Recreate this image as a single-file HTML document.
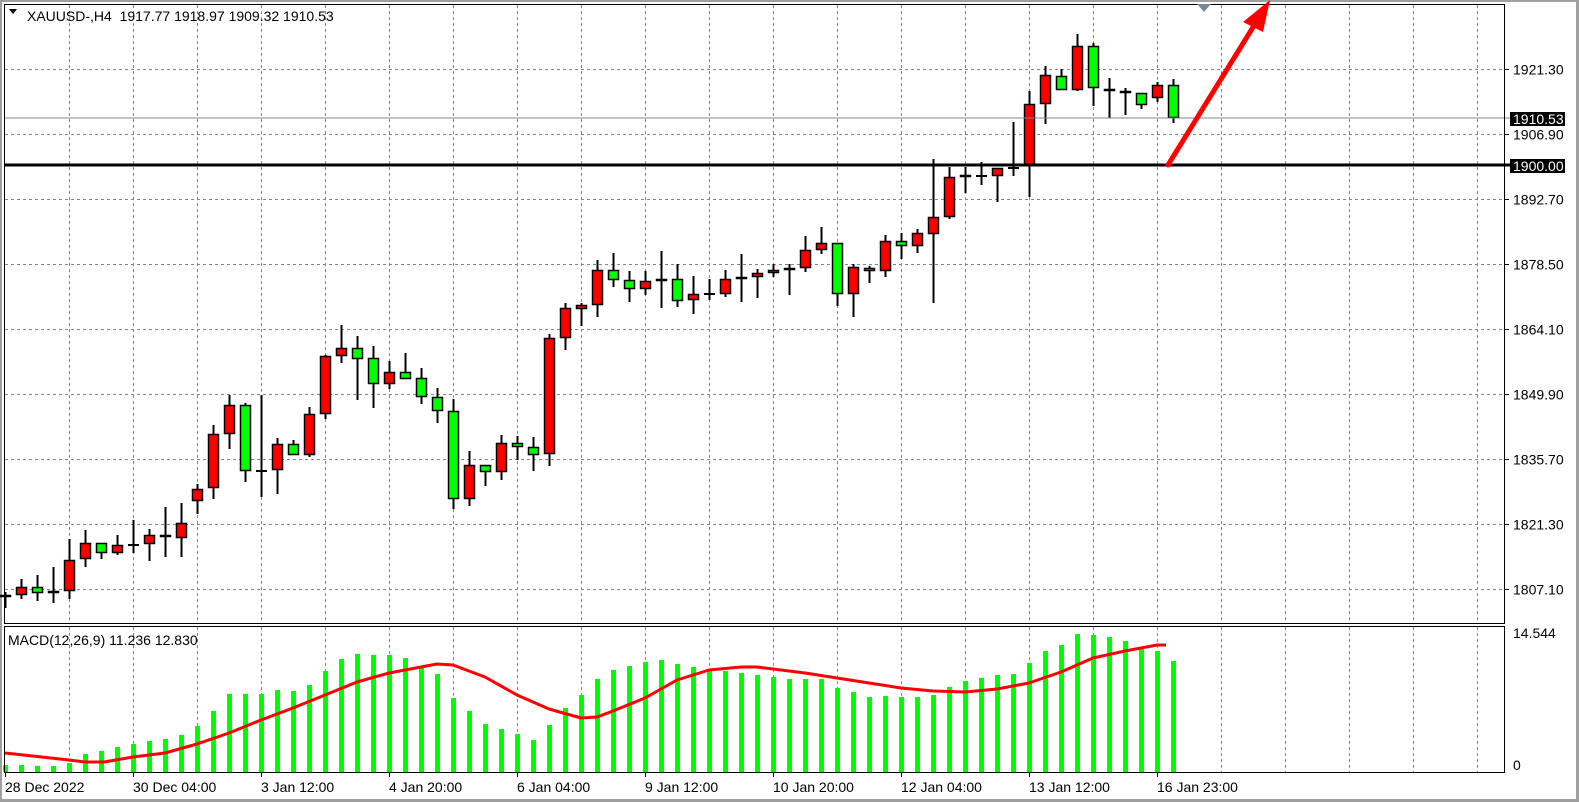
<!DOCTYPE html>
<html><head><meta charset="utf-8">
<style>
html,body{margin:0;padding:0;background:#fff;}
body{width:1579px;height:803px;overflow:hidden;position:relative;font-family:"Liberation Sans",sans-serif;}
svg{position:absolute;left:0;top:0;}
text{font-family:"Liberation Sans",sans-serif;font-size:14px;fill:#000;white-space:pre;}
</style></head>
<body>
<svg id="s" width="1579" height="803" xmlns="http://www.w3.org/2000/svg">
<rect x="0" y="0" width="1579" height="803" fill="#fff"/>
<rect x="0.5" y="0.5" width="1577" height="800" fill="none" stroke="#a0a0a0" stroke-width="3"/>
<g id="grid"></g>
<g id="macd"></g>
<g id="candles"></g>
<line x1="4" y1="118" x2="1505" y2="118" stroke="#778899" stroke-width="1"/>
<line x1="4" y1="165" x2="1505" y2="165" stroke="#000" stroke-width="3"/>
<rect x="4.5" y="4.5" width="1500" height="619" fill="none" stroke="#000" stroke-width="1"/>
<rect x="4.5" y="626.5" width="1500" height="146" fill="none" stroke="#000" stroke-width="1"/>
<polygon points="1197,4 1211,4 1204,12" fill="#778899"/>
<line x1="1168" y1="165" x2="1255" y2="24" stroke="#f00" stroke-width="5" stroke-linecap="round"/>
<polygon points="1270,0 1243,22 1263,32" fill="#f00"/>
<polygon points="9,9 17,9 13,14" fill="#000"/>
<text x="27" y="21" xml:space="preserve">XAUUSD-,H4  1917.77 1918.97 1909.32 1910.53</text>
<text x="8" y="645">MACD(12,26,9) 11.236 12.830</text>
<g id="axis"></g>
<line x1="1505" y1="118" x2="1511" y2="118" stroke="#778899"/>
<rect x="1510" y="112" width="55" height="14" fill="#000"/>
<text x="1513" y="124" style="fill:#fff">1910.53</text>
<line x1="1505" y1="165" x2="1511" y2="165" stroke="#000" stroke-width="3"/>
<rect x="1510" y="159" width="55" height="14" fill="#000"/>
<text x="1513" y="171" style="fill:#fff">1900.00</text>
</svg>
<script>
var NS="http://www.w3.org/2000/svg";
function el(p,t,a,txt){var e=document.createElementNS(NS,t);for(var k in a)e.setAttribute(k,a[k]);if(txt!=null)e.textContent=txt;document.getElementById(p).appendChild(e);return e;}
for(var x=69;x<1505;x+=64){el("grid","line",{x1:x+.5,y1:5,x2:x+.5,y2:623,stroke:"#778899","stroke-dasharray":"3,3"});el("grid","line",{x1:x+.5,y1:627,x2:x+.5,y2:772,stroke:"#778899","stroke-dasharray":"3,3"});}
var hy=[69,134,199,264,329,394,459,524,589];
var hl=["1921.30","1906.90","1892.70","1878.50","1864.10","1849.90","1835.70","1821.30","1807.10"];
for(var i=0;i<hy.length;i++){el("grid","line",{x1:5,y1:hy[i]+.5,x2:1505,y2:hy[i]+.5,stroke:"#778899","stroke-dasharray":"3,3"});
 el("axis","line",{x1:1505,y1:hy[i]+.5,x2:1509,y2:hy[i]+.5,stroke:"#000"});el("axis","text",{x:1513,y:hy[i]+5.5},hl[i]);}
el("grid","line",{x1:5,y1:772.5,x2:1505,y2:772.5,stroke:"#778899","stroke-dasharray":"3,3"});
el("axis","text",{x:1513,y:638},"14.544");
el("axis","text",{x:1513,y:770},"0");
var tl=["28 Dec 2022","30 Dec 04:00","3 Jan 12:00","4 Jan 20:00","6 Jan 04:00","9 Jan 12:00","10 Jan 20:00","12 Jan 04:00","13 Jan 12:00","16 Jan 23:00"];
for(var i=0;i<tl.length;i++){var tx=5+128*i;el("axis","line",{x1:tx+.5,y1:773,x2:tx+.5,y2:777,stroke:"#000"});el("axis","text",{x:tx,y:792},tl[i]);}
var C=[[595,597,592,608,'r'],[587,595,579,599,'r'],[587,593,575,601,'g'],[591,593,567,603,'r'],[560,591,539,599,'r'],[543,559,530,567,'r'],[543,553,543,559,'g'],[545,553,535,555,'r'],[545,545,520,553,'d'],[535,544,529,561,'r'],[535,537,507,557,'g'],[523,538,503,557,'r'],[489,501,484,514,'r'],[434,488,425,499,'r'],[405,434,395,449,'r'],[405,471,403,482,'g'],[471,471,395,497,'d'],[444,470,438,494,'r'],[444,455,440,455,'g'],[414,455,407,457,'r'],[356,414,355,419,'r'],[348,356,325,363,'r'],[348,359,336,400,'g'],[358,384,346,408,'g'],[372,384,361,389,'r'],[372,379,353,379,'g'],[378,397,368,404,'g'],[397,411,388,423,'g'],[411,499,399,509,'g'],[465,499,451,506,'r'],[465,472,465,486,'g'],[443,472,435,480,'r'],[443,447,436,460,'g'],[447,455,437,471,'g'],[338,454,334,466,'r'],[308,338,303,350,'r'],[305,309,303,326,'r'],[270,305,260,317,'r'],[270,280,253,287,'g'],[280,289,271,302,'g'],[281,289,271,295,'r'],[279,281,251,308,'r'],[279,301,264,307,'g'],[294,300,276,314,'r'],[294,294,279,300,'d'],[279,294,270,297,'r'],[277,279,254,302,'r'],[273,277,269,298,'r'],[270,273,264,277,'r'],[268,270,264,295,'r'],[250,268,236,272,'r'],[243,250,227,254,'r'],[243,294,243,306,'g'],[267,294,264,317,'r'],[268,271,266,283,'g'],[241,271,235,277,'r'],[241,246,233,259,'g'],[233,246,229,253,'r'],[217,234,159,303,'r'],[177,217,167,219,'r'],[175,177,167,193,'r'],[176,176,162,185,'d'],[168,176,168,202,'r'],[168,168,122,176,'d'],[104,165,91,197,'r'],[75,104,66,124,'r'],[76,90,69,90,'g'],[46,90,34,91,'r'],[46,88,43,106,'g'],[89,91,78,118,'g'],[91,93,88,115,'g'],[93,105,93,109,'g'],[85,98,82,102,'r'],[85,118,79,123,'g']];
for(var i=0;i<C.length;i++){var c=C[i],x=5+16*i;
 el("candles","line",{x1:x+.5,y1:c[2],x2:x+.5,y2:c[3],stroke:"#000","stroke-width":2});
 if(c[4]=='d'){el("candles","rect",{x:x-5,y:c[0]-1,width:11,height:2,fill:"#000"});}
 else{var h=Math.max(c[1]-c[0],2);el("candles","rect",{x:x-4.5,y:c[0]+.5,width:10,height:h-1>0?h-1:1,fill:c[4]=='r'?"#f00":"#0f0",stroke:"#000","stroke-width":1.5});}
}
var M=[765,765,766,766,763,754,751,747,744,741,739,735,726,711,694,694,694,690,691,685,671,659,654,655,655,658,668,674,698,711,724,729,734,740,725,708,695,679,670,666,662,660,664,667,670,671,673,675,677,679,679,679,688,692,697,696,697,697,695,687,681,678,675,674,663,651,645,634,635,637,641,648,651,661];
for(var i=0;i<M.length;i++){var x=5+16*i;el("macd","rect",{x:x-2,y:M[i],width:5,height:772-M[i],fill:"#0f0"});}
var S=[[5,753],[69,760],[85,762],[104,762],[133,757],[165,753],[197,744],[229,733],[261,720],[293,708],[325,695],[357,682],[389,673],[421,667],[437,664],[453,665],[485,677],[517,695],[549,709],[581,718],[597,717],[613,711],[645,698],[677,680],[709,670],[741,667],[757,667],[773,669],[805,673],[837,678],[869,683],[901,688],[933,691],[965,692],[997,689],[1029,683],[1061,672],[1093,658],[1125,651],[1157,645],[1166,645]];
var d="M"+S.map(function(p){return p[0]+","+p[1];}).join(" L");
el("macd","path",{d:d,fill:"none",stroke:"#f00","stroke-width":3,"stroke-linejoin":"round"});
</script>
</body></html>
